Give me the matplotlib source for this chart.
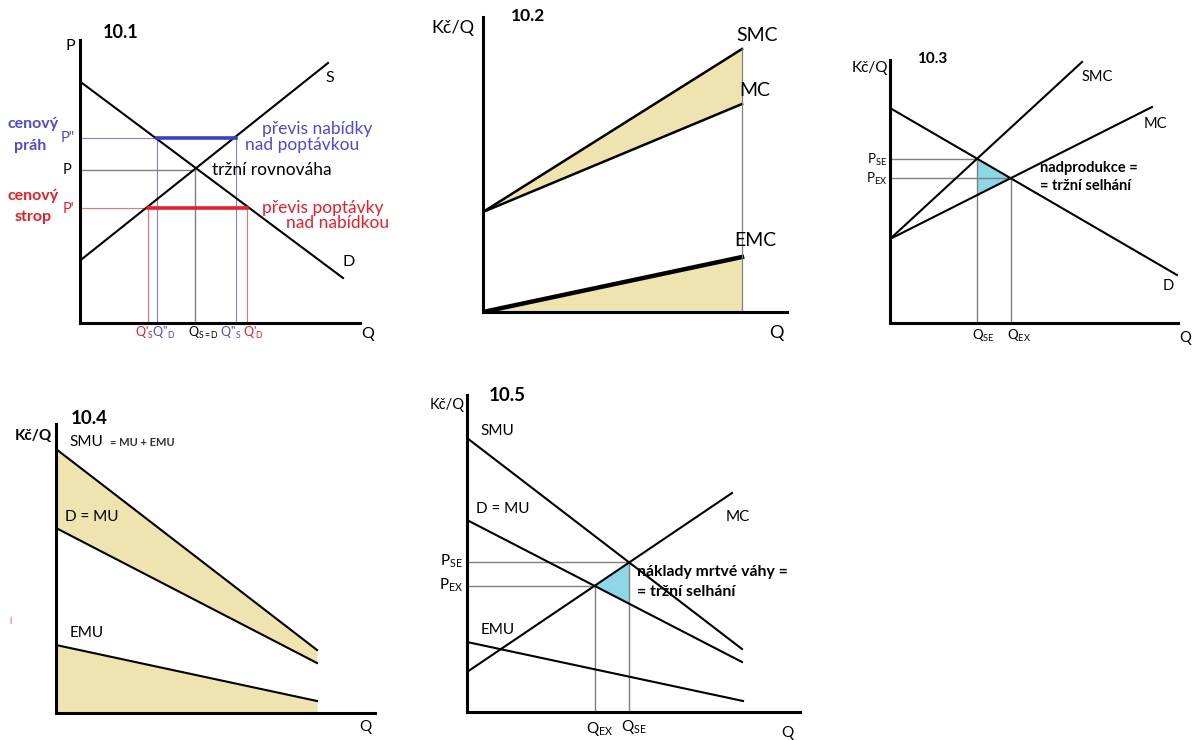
import matplotlib
matplotlib.use("Agg")
import matplotlib.pyplot as plt
import numpy as np

plt.rcParams['font.family'] = ['Lato', 'DejaVu Sans']
plt.rcParams['mathtext.fontset'] = 'custom'
plt.rcParams['mathtext.rm'] = 'Lato'
plt.rcParams['mathtext.it'] = 'Lato'
plt.rcParams['mathtext.bf'] = 'Lato:bold'

# ---------------- data ----------------
# 10.1 supply / demand with price floor and ceiling
p1_D_x = [2, 263];   p1_D_y = [240, 45]
p1_S_x = [2, 248];   p1_S_y = [64, 260]
p1_prices = {"floor": 185, "eq": 153, "ceiling": 115}
p1_q = {"QS_c": 68, "QD_f": 77, "Q_eq": 115, "QS_f": 156, "QD_c": 167}

# 10.2 costs
p2_x = [0, 259]
p2_SMC = [100, 263]
p2_MC = [100, 208]
p2_EMC = [0, 55]

# 10.3 negative externality
p3_D_x = [0, 287];   p3_D_y = [215, 48]
p3_SMC_x = [0, 192]; p3_SMC_y = [84, 261]
p3_MC_x = [0, 262];  p3_MC_y = [84, 216]
p3_P = {"SE": 164, "EX": 145}
p3_Q = {"SE": 87, "EX": 121}
p3_tri_x = [87, 121, 87]
p3_tri_y = [164, 145, 128]

# 10.4 utilities
p4_x = [0, 261]
p4_SMU = [264, 63]
p4_MU = [185, 50]
p4_EMU = [68, 12]

# 10.5 positive externality
p5_SMU_x = [0, 275]; p5_SMU_y = [274, 63]
p5_MU_x = [0, 275];  p5_MU_y = [192, 50]
p5_EMU_x = [0, 276]; p5_EMU_y = [70, 11]
p5_MC_x = [0, 265];  p5_MC_y = [40, 219]
p5_P = {"SE": 150, "EX": 126}
p5_Q = {"SE": 162, "EX": 128}
p5_tri_x = [162, 128, 162]
p5_tri_y = [150, 126, 108]

# ---------------- styles ----------------
FW, FH = 1193, 740
BEIGE = "#EFE3AF"
CYAN = "#8DD7E8"
BLUE = "#3D3DCC"
BLUE_T = "#4A4ADC"
BLUE_L = "#8080E8"
RED = "#EE1C24"
RED_L = "#F07070"
GRAY = "#7F7F7F"
LW = 1.5
AXLW = 2.2

fig = plt.figure(figsize=(FW / 100, FH / 100), dpi=100)
fig.patch.set_facecolor("white")


def make_ax(x0, y0, W, H):
    ax = fig.add_axes([x0 / FW, 1 - y0 / FH, W / FW, H / FH])
    ax.set_xlim(0, W)
    ax.set_ylim(0, H)
    ax.patch.set_alpha(0)
    for s in ("top", "right"):
        ax.spines[s].set_visible(False)
    for s in ("left", "bottom"):
        ax.spines[s].set_linewidth(AXLW)
        ax.spines[s].set_color("black")
        ax.spines[s].set_zorder(5)
    ax.set_xticks([]); ax.set_yticks([])
    return ax


def T(ax, x, y, s, **kw):
    kw.setdefault("ha", "center")
    kw.setdefault("va", "center")
    kw.setdefault("fontsize", 11)
    return ax.text(x, y, s, clip_on=False, **kw)


# ---------------- 10.1 ----------------
ax = make_ax(80, 323, 280, 283)
ax.plot(p1_D_x, p1_D_y, color="black", lw=LW, zorder=3)
ax.plot(p1_S_x, p1_S_y, color="black", lw=LW, zorder=3)
pf, pe, pc = p1_prices["floor"], p1_prices["eq"], p1_prices["ceiling"]
q = p1_q
# floor (blue)
ax.plot([0, q["QD_f"]], [pf, pf], color=BLUE_L, lw=0.8)
ax.plot([q["QD_f"], q["QS_f"]], [pf, pf], color=BLUE, lw=2.6, zorder=4)
ax.plot([q["QD_f"], q["QD_f"]], [0, pf], color=BLUE_L, lw=0.8)
ax.plot([q["QS_f"], q["QS_f"]], [0, pf], color=BLUE_L, lw=0.8)
# equilibrium
ax.plot([0, q["Q_eq"]], [pe, pe], color=GRAY, lw=1.0)
ax.plot([q["Q_eq"], q["Q_eq"]], [0, pe], color=GRAY, lw=1.0)
# ceiling (red)
ax.plot([0, q["QS_c"]], [pc, pc], color=RED_L, lw=0.8)
ax.plot([q["QS_c"], q["QD_c"]], [pc, pc], color=RED, lw=2.6, zorder=4)
ax.plot([q["QS_c"], q["QS_c"]], [0, pc], color=RED_L, lw=0.8)
ax.plot([q["QD_c"], q["QD_c"]], [0, pc], color=RED_L, lw=0.8)

T(ax, 23, 291, "10.1", ha="left", fontweight="bold", fontsize=13)
T(ax, -10, 277, "P", fontsize=11.5)
T(ax, 250, 245, "S", fontsize=11.5)
T(ax, 269, 61, "D", fontsize=11.5)
T(ax, 288, -11, "Q", fontsize=11.5)
T(ax, -47, 199, "cenový", color=BLUE_T, fontweight="bold", fontsize=11.5)
T(ax, -50, 177, "práh", color=BLUE_T, fontweight="bold", fontsize=11.5)
T(ax, -47, 127, "cenový", color=RED, fontweight="bold", fontsize=11.5)
T(ax, -47, 106, "strop", color=RED, fontweight="bold", fontsize=11.5)
T(ax, -12, 185, 'P"', color=BLUE_T, fontsize=10.5)
T(ax, -13, 153, "P", fontsize=10.5)
T(ax, -12, 114, "P'", color=RED, fontsize=10.5)
T(ax, 182, 194, "převis nabídky", ha="left", color=BLUE_T, fontsize=12.5)
T(ax, 165, 178, "nad poptávkou", ha="left", color=BLUE_T, fontsize=12.5)
T(ax, 132, 153, "tržní rovnováha", ha="left", fontsize=12.5)
T(ax, 182, 115, "převis poptávky", ha="left", color=RED, fontsize=12.5)
T(ax, 206, 100, "nad nabídkou", ha="left", color=RED, fontsize=12.5)
T(ax, 64, -10, r"Q'$_\mathregular{S}$", color=RED, fontsize=9)
T(ax, 84, -10, r"Q''$_\mathregular{D}$", color=BLUE_T, fontsize=9)
T(ax, 123, -10, r"Q$_\mathregular{S=D}$", fontsize=9)
T(ax, 151, -10, r"Q''$_\mathregular{S}$", color=BLUE_T, fontsize=9)
T(ax, 173, -10, r"Q'$_\mathregular{D}$", color=RED, fontsize=9)

# ---------------- 10.2 ----------------
ax = make_ax(483, 312, 304, 295)
ax.fill_between(p2_x, p2_MC, p2_SMC, color=BEIGE, lw=0)
ax.fill_between(p2_x, 0, p2_EMC, color=BEIGE, lw=0)
ax.plot(p2_x, p2_SMC, color="black", lw=LW + 0.3)
ax.plot(p2_x, p2_MC, color="black", lw=LW + 0.3)
ax.plot(p2_x, p2_EMC, color="black", lw=3.2)
ax.plot([p2_x[1], p2_x[1]], [0, p2_SMC[1]], color=GRAY, lw=0.9)
T(ax, -30, 284, "Kč/Q", fontsize=13)
T(ax, 45, 296, "10.2", fontweight="bold", fontsize=12.5)
T(ax, 274, 277, "SMC", fontsize=14)
T(ax, 272, 222, "MC", fontsize=14)
T(ax, 272, 72, "EMC", fontsize=14)
T(ax, 293, -21, "Q", fontsize=13)

# ---------------- 10.3 ----------------
ax = make_ax(890, 323, 288, 263)
ax.fill(p3_tri_x, p3_tri_y, color=CYAN, lw=0, zorder=1)
ax.plot([0, p3_Q["SE"]], [p3_P["SE"], p3_P["SE"]], color=GRAY, lw=1.0)
ax.plot([0, p3_Q["EX"]], [p3_P["EX"], p3_P["EX"]], color=GRAY, lw=1.0)
ax.plot([p3_Q["SE"], p3_Q["SE"]], [0, p3_P["SE"]], color=GRAY, lw=1.0)
ax.plot([p3_Q["EX"], p3_Q["EX"]], [0, p3_P["EX"]], color=GRAY, lw=1.0)
ax.plot(p3_D_x, p3_D_y, color="black", lw=LW, zorder=3)
ax.plot(p3_SMC_x, p3_SMC_y, color="black", lw=LW, zorder=3)
ax.plot(p3_MC_x, p3_MC_y, color="black", lw=LW, zorder=3)
T(ax, -20, 255, "Kč/Q", fontsize=11)
T(ax, 42, 264, "10.3", fontweight="bold", fontsize=11)
T(ax, 207, 246, "SMC", fontsize=10.5)
T(ax, 265, 199, "MC", fontsize=10.5)
T(ax, 278, 37, "D", fontsize=10.5)
T(ax, 295, -15, "Q", fontsize=10.5)
T(ax, -3, 163, r"$\mathregular{P_{SE}}$", ha="right", fontsize=9.5)
T(ax, -3, 144, r"$\mathregular{P_{EX}}$", ha="right", fontsize=9.5)
T(ax, 93, -13, r"$\mathregular{Q_{SE}}$", fontsize=9.5)
T(ax, 129, -13, r"$\mathregular{Q_{EX}}$", fontsize=9.5)
T(ax, 150, 155, "nadprodukce =", ha="left", fontweight="bold", fontsize=10.5)
T(ax, 150, 137, "= tržní selhání", ha="left", fontweight="bold", fontsize=10.5)

# ---------------- 10.4 ----------------
ax = make_ax(56, 713, 319, 289)
ax.fill_between(p4_x, p4_MU, p4_SMU, color=BEIGE, lw=0)
ax.fill_between(p4_x, 0, p4_EMU, color=BEIGE, lw=0)
ax.plot(p4_x, p4_SMU, color="black", lw=LW)
ax.plot(p4_x, p4_MU, color="black", lw=LW)
ax.plot(p4_x, p4_EMU, color="black", lw=LW)
T(ax, -23, 277, "Kč/Q", fontweight="bold", fontsize=11)
T(ax, 33, 295, "10.4", fontweight="bold", fontsize=13.5)
T(ax, 13, 271, "SMU", ha="left", fontsize=11)
T(ax, 54, 271, "= MU + EMU", ha="left", fontsize=8, fontweight="bold", color="#333333")
T(ax, 9, 196, "D = MU", ha="left", fontsize=11)
T(ax, 14, 80, "EMU", ha="left", fontsize=11)
T(ax, 309, -14, "Q", fontsize=11)
T(ax, -46, 93, "|", color=RED, fontsize=6)

# ---------------- 10.5 ----------------
ax = make_ax(467, 712, 333, 317)
ax.fill(p5_tri_x, p5_tri_y, color=CYAN, lw=0, zorder=1)
ax.plot([0, p5_Q["SE"]], [p5_P["SE"], p5_P["SE"]], color=GRAY, lw=1.0)
ax.plot([0, p5_Q["EX"]], [p5_P["EX"], p5_P["EX"]], color=GRAY, lw=1.0)
ax.plot([p5_Q["SE"], p5_Q["SE"]], [0, p5_P["SE"]], color=GRAY, lw=1.0)
ax.plot([p5_Q["EX"], p5_Q["EX"]], [0, p5_P["EX"]], color=GRAY, lw=1.0)
ax.plot(p5_SMU_x, p5_SMU_y, color="black", lw=LW, zorder=3)
ax.plot(p5_MU_x, p5_MU_y, color="black", lw=LW, zorder=3)
ax.plot(p5_EMU_x, p5_EMU_y, color="black", lw=LW, zorder=3)
ax.plot(p5_MC_x, p5_MC_y, color="black", lw=LW, zorder=3)
T(ax, -20, 307, "Kč/Q", fontsize=10.5)
T(ax, 40, 317, "10.5", fontweight="bold", fontsize=13.5)
T(ax, 13, 281, "SMU", ha="left", fontsize=11)
T(ax, 9, 203, "D = MU", ha="left", fontsize=11)
T(ax, 271, 195, "MC", fontsize=11)
T(ax, 14, 82, "EMU", ha="left", fontsize=11)
T(ax, -4, 151, r"$\mathregular{P_{SE}}$", ha="right", fontsize=11)
T(ax, -4, 127, r"$\mathregular{P_{EX}}$", ha="right", fontsize=11)
T(ax, 133, -17, r"$\mathregular{Q_{EX}}$", fontsize=11)
T(ax, 167, -15, r"$\mathregular{Q_{SE}}$", fontsize=11)
T(ax, 320, -21, "Q", fontsize=11)
T(ax, 170, 140, "náklady mrtvé váhy =", ha="left", fontweight="bold", fontsize=11.3)
T(ax, 170, 120, "= tržní selhání", ha="left", fontweight="bold", fontsize=11.3)

fig.savefig("out.png", dpi=100, facecolor="white")
